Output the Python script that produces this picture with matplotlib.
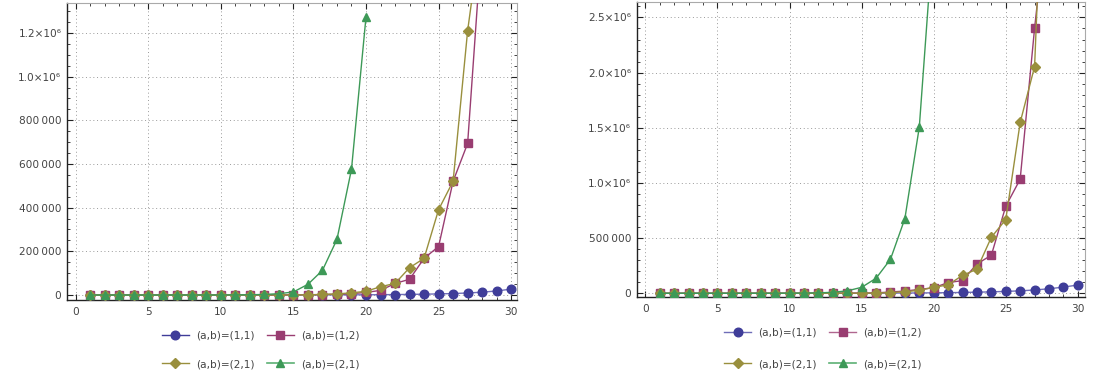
import matplotlib
matplotlib.use("Agg")
import matplotlib.pyplot as plt
from matplotlib.ticker import MultipleLocator, FixedLocator, FixedFormatter
from matplotlib.lines import Line2D

# ---------------- data ----------------
x_all = list(range(1, 31))

left_11 = [1, 2, 3, 5, 8, 12, 18, 27, 40, 60, 90, 135, 200, 300, 420, 560, 700, 800, 900, 1000,
           1400, 2000, 2800, 3800, 5000, 6800, 9200, 13000, 18500, 27000]
left_12 = [1, 2, 3, 5, 8, 12, 20, 30, 45, 70, 100, 150, 200, 300, 600, 1000, 2000, 3500, 6000, 12000,
           21000, 53000, 72000, 168000, 222000, 521000, 694000, 1640000, 2200000, 5000000]
left_21a = [1, 2, 3, 5, 8, 12, 20, 30, 45, 60, 80, 110, 150, 200, 500, 1000, 2500, 5000, 10000, 17000,
            38000, 53000, 125000, 168000, 391000, 521000, 1210000, 1700000, 3800000, 5300000]
left_21b_x = list(range(1, 21))
left_21b = [1, 1, 1, 2, 4, 9, 20, 45, 100, 220, 500, 1100, 2500, 6000, 14000, 49000, 113000, 255000,
            576000, 1273000]

right_11 = [1, 2, 3, 5, 8, 12, 20, 30, 50, 80, 120, 180, 270, 400, 600, 900, 1700, 2300, 3100, 4200,
            5600, 7500, 10000, 13000, 17000, 22000, 30000, 41000, 56000, 75000]
right_12 = [2, 4, 8, 15, 25, 40, 60, 90, 130, 180, 250, 350, 450, 600, 1200, 3000, 12000, 20000, 35000,
            50000, 97000, 115000, 266000, 345000, 789000, 1034000, 2403000, 3600000, 8000000, 11000000]
right_21a = [2, 4, 8, 15, 25, 40, 60, 90, 130, 180, 250, 350, 450, 600, 1200, 2500, 6000, 14000, 27000,
             54000, 76000, 163000, 218000, 508000, 668000, 1548000, 2055000, 5300000, 7000000, 16000000]
right_21b_x = list(range(1, 21))
right_21b = [1, 2, 4, 8, 16, 35, 75, 160, 350, 750, 1600, 3500, 9000, 22000, 54000, 136000, 308000,
             677000, 1505000, 3300000]

labels = ["(a,b)=(1,1)", "(a,b)=(1,2)", "(a,b)=(2,1)", "(a,b)=(2,1)"]
x_ticks = [0, 5, 10, 15, 20, 25, 30]
left_yticks = [0, 200000, 400000, 600000, 800000, 1000000, 1200000]
left_ylabels = ["0", "200\u2009000", "400\u2009000", "600\u2009000", "800\u2009000", "1.0\u00d710\u2076", "1.2\u00d710\u2076"]
right_yticks = [0, 500000, 1000000, 1500000, 2000000, 2500000]
right_ylabels = ["0", "500\u2009000", "1.0\u00d710\u2076", "1.5\u00d710\u2076", "2.0\u00d710\u2076", "2.5\u00d710\u2076"]

# ---------------- style ----------------
C_BLUE = "#3f3d99"
C_MAG = "#993d71"
C_OLIVE = "#998f3d"
C_GREEN = "#3d9957"
L_BLUE = "#6f6db8"
L_MAG = "#b0668f"
L_GREEN = "#5cb074"
TXT = "#444444"
FS = 7.6

fig = plt.figure(figsize=(10.96, 3.8), dpi=100)

def setup(ax, yticks, ylabels, ylim, yminor, xlim):
    ax.set_xlim(*xlim)
    ax.set_ylim(*ylim)
    ax.xaxis.set_major_locator(FixedLocator(x_ticks))
    ax.xaxis.set_minor_locator(MultipleLocator(1))
    ax.yaxis.set_major_locator(FixedLocator(yticks))
    ax.yaxis.set_major_formatter(FixedFormatter(ylabels))
    ax.yaxis.set_minor_locator(MultipleLocator(yminor))
    ax.tick_params(which="both", direction="in", top=True, right=True, labelsize=FS,
                   labelcolor=TXT, color="#222222")
    ax.tick_params(which="major", length=4, width=0.8)
    ax.tick_params(which="minor", length=2.2, width=0.6)
    ax.tick_params(axis="x", pad=5)
    ax.tick_params(axis="y", pad=4)
    ax.grid(True, which="major", linestyle=(0, (1, 2.8)), color="#9a9a9a", linewidth=0.7)
    for s in ["top", "right"]:
        ax.spines[s].set_color("#aaaaaa")
    for s in ["left", "bottom"]:
        ax.spines[s].set_color("#222222")
        ax.spines[s].set_linewidth(1.0)

def draw(ax, s11, s12, s21a, s21b_x, s21b):
    ax.plot(x_all, s11, color=L_BLUE, lw=1.0, marker="o", ms=6.2, mfc=C_BLUE, mec=C_BLUE, zorder=3)
    ax.plot(x_all, s12, color=C_MAG, lw=1.0, marker="s", ms=5.2, mfc=C_MAG, mec=C_MAG, zorder=4)
    ax.plot(x_all, s21a, color=C_OLIVE, lw=1.0, marker="D", ms=5.0, mfc=C_OLIVE, mec=C_OLIVE, zorder=5)
    ax.plot(s21b_x, s21b, color=C_GREEN, lw=1.0, marker="^", ms=5.8, mfc=C_GREEN, mec=C_GREEN, zorder=6)

def legend(anchor, light, spacing):
    h11 = Line2D([], [], color=L_BLUE if light else C_BLUE, lw=1.0, marker="o", ms=6.2, mfc=C_BLUE, mec=C_BLUE)
    h12 = Line2D([], [], color=L_MAG if light else C_MAG, lw=1.0, marker="s", ms=5.2, mfc=C_MAG, mec=C_MAG)
    h21a = Line2D([], [], color=C_OLIVE, lw=1.0, marker="D", ms=5.0, mfc=C_OLIVE, mec=C_OLIVE)
    h21b = Line2D([], [], color=L_GREEN, lw=1.2, marker="^", ms=5.8, mfc=C_GREEN, mec=C_GREEN)
    leg = fig.legend([h11, h21a, h12, h21b], [labels[0], labels[2], labels[1], labels[3]],
                     ncol=2, loc="upper left", bbox_to_anchor=anchor, frameon=False,
                     fontsize=FS, handlelength=2.5, handletextpad=0.7, columnspacing=1.2,
                     labelspacing=spacing, borderaxespad=0, borderpad=0)
    for t in leg.get_texts():
        t.set_color(TXT)

ax1 = fig.add_axes([0.0611, 0.2105, 0.4106, 0.7815])
draw(ax1, left_11, left_12, left_21a, left_21b_x, left_21b)
setup(ax1, left_yticks, left_ylabels, (-22900, 1337000), 50000, (-0.6, 30.4))

ax2 = fig.add_axes([0.581, 0.2192, 0.409, 0.7755])
draw(ax2, right_11, right_12, right_21a, right_21b_x, right_21b)
setup(ax2, right_yticks, right_ylabels, (-31000, 2640000), 100000, (-0.6, 30.5))

legend((0.148, 0.13), False, 1.75)
legend((0.661, 0.137), True, 2.0)

fig.savefig("out.png", dpi=100)
